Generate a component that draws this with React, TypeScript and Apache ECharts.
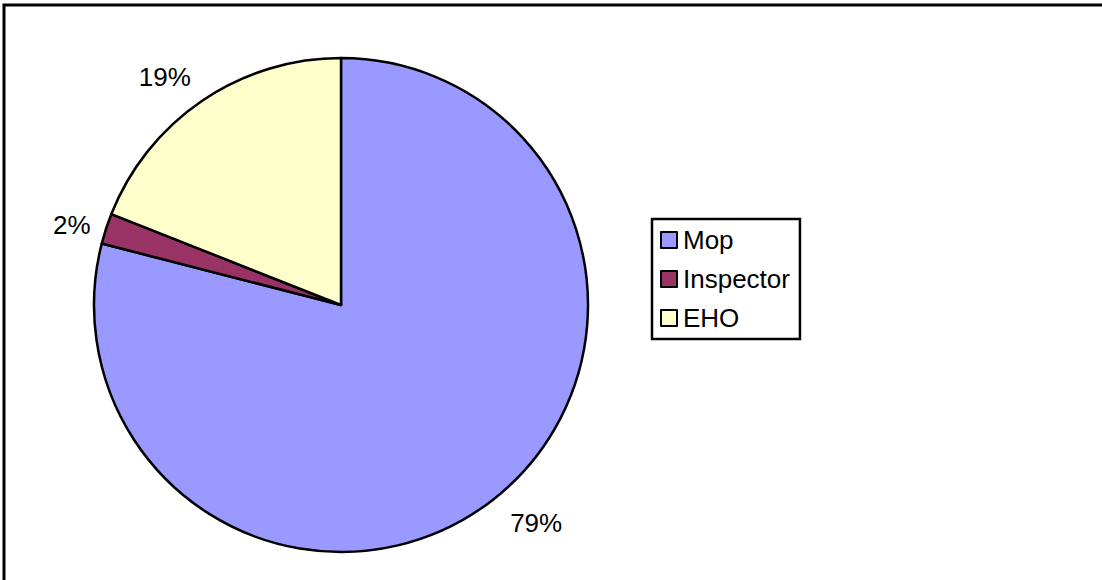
import React, { useEffect, useRef } from "react";
import * as echarts from "echarts";

const categories = ["Mop", "Inspector", "EHO"];
const values = [79, 2, 19];
const colors = ["#9999FF", "#993366", "#FFFFCC"];

export default function App() {
  const ref = useRef<HTMLDivElement>(null);
  useEffect(() => {
    if (!ref.current) return;
    const chart = echarts.init(ref.current, undefined, { renderer: "svg" });
    const font = "'Liberation Sans', Arial, sans-serif";
    const labelShift: Record<number, [number, number]> = { 0: [0, 0], 1: [12, 5], 2: [5, 0] };
    chart.setOption({
      animation: false,
      backgroundColor: "#ffffff",
      graphic: [
        {
          type: "rect",
          shape: { x: 4, y: 5, width: 1300, height: 800 },
          style: { fill: "none", stroke: "#000", lineWidth: 3 },
          silent: true,
        },
      ],
      legend: {
        orient: "vertical",
        left: 652,
        top: 219,
        padding: [8, 10, 8, 8],
        borderColor: "#000",
        borderWidth: 2.5,
        itemWidth: 16,
        itemHeight: 16,
        itemGap: 13,
        icon: "rect",
        data: categories,
        textStyle: { fontFamily: font, fontSize: 26, color: "#000", padding: [0, 0, 0, 1] },
        itemStyle: { borderColor: "#000", borderWidth: 2 },
      },
      series: [
        {
          type: "pie",
          center: [341, 305],
          radius: 247,
          startAngle: 90,
          clockwise: true,
          avoidLabelOverlap: false,
          itemStyle: { borderColor: "#000", borderWidth: 2.5 },
          label: {
            show: true,
            position: "outside",
            formatter: "{d}%",
            fontFamily: font,
            fontSize: 26,
            color: "#000",
            distanceToLabelLine: 0,
          },
          labelLine: { show: false, length: 29, length2: 0 },
          labelLayout: (p: any) => {
            const s = labelShift[p.dataIndex] || [0, 0];
            return { dx: s[0], dy: s[1] };
          },
          emphasis: { disabled: true },
          data: categories.map((name, i) => ({
            name,
            value: values[i],
            itemStyle: { color: colors[i] },
          })),
        },
      ],
    });
    return () => chart.dispose();
  }, []);
  return (
    <div
      ref={ref}
      style={{ position: "fixed", left: 0, top: 0, width: 1102, height: 580 }}
    />
  );
}
